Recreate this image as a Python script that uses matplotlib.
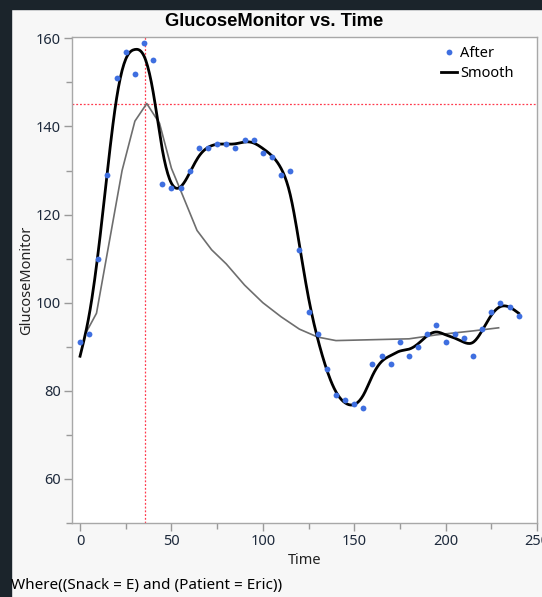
"""GlucoseMonitor vs. Time with a cubic-spline style smoother."""

import matplotlib
matplotlib.use("Agg")
import matplotlib.pyplot as plt
import numpy as np
from matplotlib.patches import Rectangle
from matplotlib.ticker import MultipleLocator

plt.rcParams["font.family"] = ["Noto Sans", "DejaVu Sans"]

# Measured glucose after the snack (every 5 minutes)
time_after = list(range(0, 245, 5))
glucose_after = [
    91, 93, 110, 129, 151, 157, 152, 159, 155, 127,
    126, 126, 130, 135, 135, 136, 136, 135, 137, 137,
    134, 133, 129, 130, 112, 98, 93, 85, 79, 78,
    77, 76, 86, 88, 86, 91, 88, 90, 93, 95,
    91, 93, 92, 88, 94, 98, 100, 99, 97,
]

# Grey reference line (vertices)
ref_time = [3, 9, 23, 30, 36.5, 43.5, 50, 56, 64, 72, 80, 90, 100, 110,
            120, 130, 140, 160, 180, 195, 215, 229]
ref_glucose = [93, 97.6, 130, 141.2, 145.2, 140.7, 130.5, 124.5, 116.4, 112,
               108.8, 104, 100, 96.8, 94, 92.2, 91.4, 91.6, 91.8, 92.7, 93.6, 94.3]

crosshair_x = 35.5
crosshair_y = 145
footer = "Where((Snack = E) and (Patient = Eric))"


def smooth_spline(x, y, lam=60.0, step=0.5):
    """Penalised second-difference smoother, close to a cubic smoothing spline."""
    x = np.asarray(x, float)
    y = np.asarray(y, float)
    grid = np.arange(x.min(), x.max() + step / 2, step)
    n = len(grid)
    idx = np.rint((x - grid[0]) / step).astype(int)
    w = np.zeros(n)
    wy = np.zeros(n)
    w[idx] = 1.0
    wy[idx] = y
    d2 = np.diff(np.eye(n), n=2, axis=0)
    a = np.diag(w) + lam / step ** 3 * d2.T @ d2
    return grid, np.linalg.solve(a, wy)


fig = plt.figure(figsize=(5.42, 5.97), dpi=100, facecolor="#f7f7f7")
# dark window edges
fig.patches.append(Rectangle((0, 0), 11 / 542, 1, transform=fig.transFigure,
                             color="#1b242b", zorder=-1))
fig.patches.append(Rectangle((0, 1 - 9 / 597), 1, 9 / 597, transform=fig.transFigure,
                             color="#1b242b", zorder=-1))

ax = fig.add_axes([72 / 542, 1 - 523 / 597, (537 - 72) / 542, (523 - 37) / 597])
ax.set_facecolor("white")

ax.axhline(crosshair_y, color="#ff3b4e", lw=0.9, ls=(0, (1.5, 1.5)), zorder=1)
ax.axvline(crosshair_x, color="#ff3b4e", lw=0.9, ls=(0, (1.5, 1.5)), zorder=1)

ax.plot(ref_time, ref_glucose, color="#6e6e6e", lw=1.2, zorder=2)

gx, gy = smooth_spline(time_after, glucose_after)
ax.plot(gx, gy, color="black", lw=2.0, zorder=3, label="Smooth")
ax.plot(time_after, glucose_after, "o", color="#3f6fe0", ms=4.2, mew=0,
        zorder=4, label="After")

ax.set_xlim(-4.4, 250)
ax.set_ylim(50, 160.3)
ax.xaxis.set_major_locator(MultipleLocator(50))
ax.xaxis.set_minor_locator(MultipleLocator(25))
ax.yaxis.set_major_locator(MultipleLocator(20))
ax.yaxis.set_minor_locator(MultipleLocator(10))
ax.tick_params(which="major", length=6, width=1, color="#9a9a9a",
               labelsize=10.5, labelcolor="#1e2a3c", pad=2)
ax.tick_params(which="minor", length=4, width=1, color="#9a9a9a")
for side in ax.spines.values():
    side.set_color("#a8a8a8")
    side.set_linewidth(1.0)

ax.set_xlabel("Time", fontsize=10.5, color="#222222", labelpad=3)
ax.set_ylabel("GlucoseMonitor", fontsize=10.5, color="#222222")
ax.yaxis.set_label_coords(-(72 - 34) / 465, 0.5)

handles, labels = ax.get_legend_handles_labels()
ax.legend(handles[::-1], labels[::-1], loc="upper right", frameon=False,
          bbox_to_anchor=(1 - 14 / 465, 1.0),
          fontsize=10.5, handlelength=1.1, handletextpad=0.2,
          borderaxespad=0.25, labelspacing=0.3)

fig.text(0.505, 1 - 21 / 597, "GlucoseMonitor vs. Time", ha="center", va="center",
         fontsize=13.2, fontweight="bold", family="Liberation Sans", color="black")
fig.text(11 / 542, 1 - 585 / 597, footer, ha="left", va="center",
         fontsize=11, color="black")

fig.savefig("out.png", dpi=100, facecolor=fig.get_facecolor())
